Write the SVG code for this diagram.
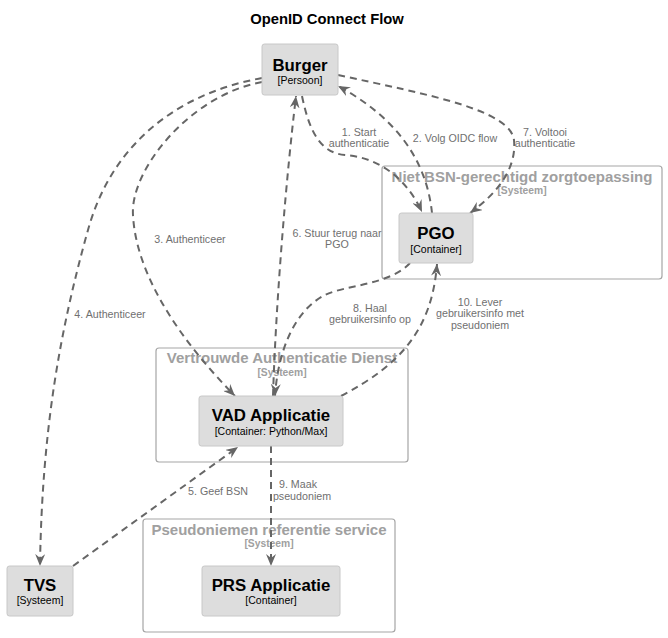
<svg xmlns="http://www.w3.org/2000/svg" width="668" height="638" viewBox="0 0 668 638">
<style>
text{font-family:"Liberation Sans",Arial,sans-serif;text-anchor:middle}
.title{font-size:14.8px;font-weight:bold;fill:#000}
.node{fill:#dddddd;stroke:#c8c8c8;stroke-width:1}
.name{font-size:16.8px;font-weight:bold;fill:#000}
.stereo{font-size:10.5px;fill:#000}
.bnd{fill:none;stroke:#a6a6a6;stroke-width:1.2}
.btitle{font-size:15px;font-weight:bold;fill:#a0a0a0}
.bstereo{font-size:10.3px;font-weight:bold;fill:#a0a0a0}
.edge{fill:none;stroke:#666666;stroke-width:2;stroke-dasharray:7,5;marker-end:url(#arrow)}
.lbl{font-size:10.7px;fill:#707070}
</style>
<defs>
<marker id="arrow" markerUnits="userSpaceOnUse" viewBox="0 0 12 10" refX="12" refY="5" markerWidth="12" markerHeight="10" orient="auto">
<path d="M0,0 L12,5 L0,10 L4,5 Z" fill="#666666"/>
</marker>
</defs>
<rect width="668" height="638" fill="#ffffff"/>
<text class="title" x="327" y="24">OpenID Connect Flow</text>

<g id="boundary-niet-bsn">
<rect class="bnd" x="382" y="166" width="280" height="113" rx="3"/>
<text class="btitle" x="522" y="182">Niet BSN-gerechtigd zorgtoepassing</text>
<text class="bstereo" x="522" y="194">[Systeem]</text>
</g>
<g id="boundary-vad">
<rect class="bnd" x="156" y="348" width="252" height="114" rx="3"/>
<text class="btitle" x="282" y="363">Vertrouwde Authenticatie Dienst</text>
<text class="bstereo" x="282" y="375.5">[Systeem]</text>
</g>
<g id="boundary-prs">
<rect class="bnd" x="143" y="519" width="252" height="113" rx="3"/>
<text class="btitle" x="269" y="534.5">Pseudoniemen referentie service</text>
<text class="bstereo" x="269" y="547">[Systeem]</text>
</g>

<g id="connectors">
<path class="edge" d="M302,96 C310,135 322,153 345,155 C375,157 405,175 422,212"/>
<path class="edge" d="M432,213 C428,175 410,125 338,86"/>
<path class="edge" d="M262,82 C190,95 130,170 133,215 C136,275 180,340 235,396"/>
<path class="edge" d="M262,78 C170,95 110,150 88,230 C60,330 42,430 40,566"/>
<path class="edge" d="M73,566 L238,447"/>
<path class="edge" d="M273,396 C276,300 286,180 296,96"/>
<path class="edge" d="M338,75 C430,95 510,110 514,140 C517,170 495,195 470,213"/>
<path class="edge" d="M410,263 C390,285 345,285 325,295 C295,310 278,350 275,396"/>
<path class="edge" d="M271,446 L271,566"/>
<path class="edge" d="M341,396 C400,365 432,330 437,264"/>
<text class="lbl" x="359" y="136">1. Start</text>
<text class="lbl" x="359" y="147">authenticatie</text>
<text class="lbl" x="455" y="142">2. Volg OIDC flow</text>
<text class="lbl" x="190" y="243">3. Authenticeer</text>
<text class="lbl" x="110" y="318">4. Authenticeer</text>
<text class="lbl" x="218" y="495">5. Geef BSN</text>
<text class="lbl" x="337" y="237">6. Stuur terug naar</text>
<text class="lbl" x="337" y="248">PGO</text>
<text class="lbl" x="545" y="136">7. Voltooi</text>
<text class="lbl" x="545" y="147">authenticatie</text>
<text class="lbl" x="370" y="312">8. Haal</text>
<text class="lbl" x="370" y="323">gebruikersinfo op</text>
<text class="lbl" x="298" y="488">9. Maak</text>
<text class="lbl" x="302" y="500">pseudoniem</text>
<text class="lbl" x="480" y="306">10. Lever</text>
<text class="lbl" x="480" y="317">gebruikersinfo met</text>
<text class="lbl" x="480" y="329">pseudoniem</text>
</g>

<g id="burger">
<rect class="node" x="262" y="44" width="76" height="51" rx="2.5"/>
<text class="name" x="300" y="71">Burger</text>
<text class="stereo" x="300" y="84">[Persoon]</text>
</g>
<g id="pgo">
<rect class="node" x="399" y="213" width="74" height="50" rx="2.5"/>
<text class="name" x="436" y="239">PGO</text>
<text class="stereo" x="436" y="252.5">[Container]</text>
</g>
<g id="vad">
<rect class="node" x="199" y="396" width="144" height="50" rx="2.5"/>
<text class="name" x="271" y="421">VAD Applicatie</text>
<text class="stereo" x="271" y="434.5">[Container: Python/Max]</text>
</g>
<g id="prs">
<rect class="node" x="202" y="566" width="138" height="50" rx="2.5"/>
<text class="name" x="271" y="590.5">PRS Applicatie</text>
<text class="stereo" x="271" y="604">[Container]</text>
</g>
<g id="tvs">
<rect class="node" x="7" y="566" width="66" height="50" rx="2.5"/>
<text class="name" x="40" y="590.5">TVS</text>
<text class="stereo" x="40" y="604">[Systeem]</text>
</g>
</svg>
